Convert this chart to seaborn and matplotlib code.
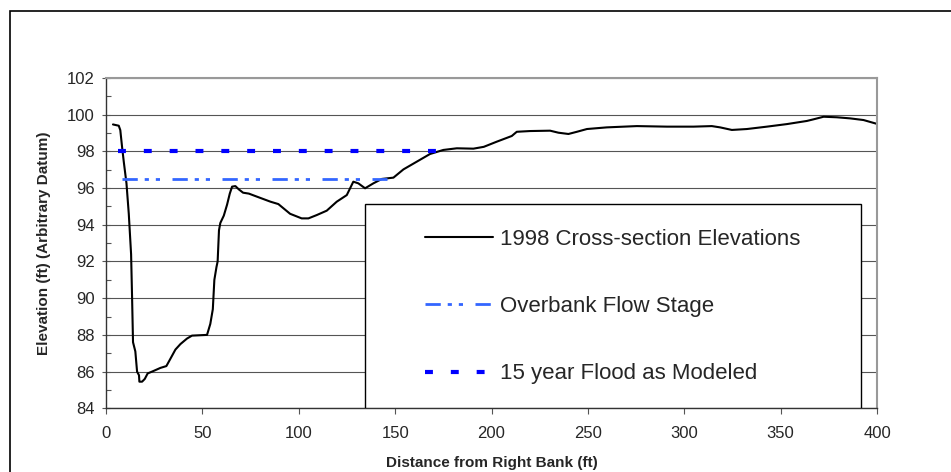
import matplotlib
matplotlib.use("Agg")
import matplotlib.pyplot as plt
import seaborn as sns
from matplotlib.patches import Rectangle
from matplotlib.ticker import MultipleLocator

# 1998 cross-section survey (distance from right bank, elevation)
distance = [3.6, 6.6, 7.4, 8.3, 9.2, 10.6, 11.8, 13.0, 13.5, 14.0, 15.2, 16.1, 17.1,
            17.3, 18.7, 20.1, 21.6, 23.9, 28.2, 31.3, 33.4, 36.0, 38.6, 42.0, 44.6,
            52.4, 54.1, 55.4, 56.2, 57.3, 57.9, 58.6, 59.3, 61.1, 62.8, 64.2, 65.4,
            67.1, 68.9, 71.1, 74.1, 78.4, 85.3, 89.4, 95.5, 101.5, 105.0, 109.3,
            114.5, 119.7, 124.9, 128.3, 130.9, 134.4, 138.7, 143.1, 149.1, 154.3,
            161.2, 168.1, 175.0, 182.0, 190.6, 196.0, 202.7, 210.5, 213.1, 220.0,
            230.4, 234.7, 239.9, 244.3, 249.5, 259.8, 275.4, 291.0, 304.8, 314.3,
            318.6, 324.7, 332.5, 342.9, 353.3, 363.6, 367.1, 372.3, 379.2, 386.1,
            393.0, 400.0]
elevation = [99.47, 99.40, 99.16, 98.26, 97.44, 96.26, 94.60, 92.40, 90.10, 87.60,
             87.10, 86.00, 85.80, 85.45, 85.45, 85.60, 85.90, 86.00, 86.20, 86.30,
             86.70, 87.20, 87.50, 87.80, 87.96, 88.00, 88.60, 89.40, 91.00, 91.70,
             92.00, 93.70, 94.10, 94.50, 95.10, 95.70, 96.08, 96.11, 95.93, 95.75,
             95.70, 95.53, 95.26, 95.13, 94.60, 94.35, 94.35, 94.53, 94.77, 95.26,
             95.62, 96.35, 96.26, 95.99, 96.26, 96.50, 96.57, 97.02, 97.44, 97.86,
             98.08, 98.17, 98.15, 98.25, 98.53, 98.84, 99.07, 99.11, 99.13, 99.02,
             98.95, 99.07, 99.22, 99.31, 99.38, 99.35, 99.35, 99.38, 99.31, 99.17,
             99.22, 99.35, 99.49, 99.66, 99.75, 99.89, 99.86, 99.80, 99.71, 99.50]

# water surface levels
overbank_x = [8.5, 146.0]
overbank_y = [96.5, 96.5]
flood_x = [6.0, 172.5]
flood_y = [98.0, 98.0]

labels = ["1998 Cross-section Elevations", "Overbank Flow Stage", "15 year Flood as Modeled"]

sns.set_theme(style="white")
plt.rcParams["font.family"] = ["Liberation Sans", "DejaVu Sans"]

fig = plt.figure(figsize=(9.51, 4.72), dpi=100)
ax = fig.add_axes([0.1115, 0.135, 0.9222 - 0.1115, 0.8347 - 0.135])

sns.lineplot(x=distance, y=elevation, ax=ax, sort=False, estimator=None,
             color="black", linewidth=1.5, label=labels[0], zorder=2)
sns.lineplot(x=overbank_x, y=overbank_y, ax=ax, sort=False, estimator=None,
             color="#3366FF", linewidth=2.0, label=labels[1], zorder=2,
             dashes=False)
sns.lineplot(x=flood_x, y=flood_y, ax=ax, sort=False, estimator=None,
             color="#0000FF", linewidth=3.0, label=labels[2], zorder=2,
             dashes=False)
ax.lines[1].set_dashes([5.5, 2.5, 1.5, 2.5, 1.5, 4.5])
ax.lines[2].set_dashes([1.9, 4.3])

ax.set_xlim(0, 400)
ax.set_ylim(84, 102)
ax.xaxis.set_major_locator(MultipleLocator(50))
ax.yaxis.set_major_locator(MultipleLocator(2))
ax.yaxis.set_minor_locator(MultipleLocator(1))
ax.grid(axis="y", which="major", color="#555555", linewidth=0.8)
ax.grid(axis="x", visible=False)

ax.tick_params(axis="x", which="major", direction="out", length=4, width=0.8,
               color="#555555", labelsize=12, pad=9, bottom=True)
ax.tick_params(axis="y", which="major", direction="inout", length=6, width=0.8,
               color="#555555", labelsize=12, pad=5, left=True)
ax.tick_params(axis="y", which="minor", direction="in", length=3.5, width=0.8,
               color="#555555", left=True)

for side in ["left", "bottom"]:
    ax.spines[side].set_color("#333333")
    ax.spines[side].set_linewidth(1.0)
for side in ["top", "right"]:
    ax.spines[side].set_color("#999999")
    ax.spines[side].set_linewidth(1.5)

ax.set_xlabel("Distance from Right Bank (ft)", fontsize=11, fontweight="bold", labelpad=10.5)
ax.set_ylabel("Elevation (ft) (Arbitrary Datum)", fontsize=11, fontweight="bold", labelpad=11.5)

# legend box, then the entries on top of it
ax.add_patch(Rectangle((0.336, 0.0), 0.643, 0.6185, transform=ax.transAxes,
                       facecolor="white", edgecolor="black", linewidth=1.0, zorder=3))
handles, _ = ax.get_legend_handles_labels()
leg = ax.legend(handles, labels, loc="upper left", bbox_to_anchor=(0.4137, 0.543),
                frameon=False, fontsize=16, handlelength=3.06, handletextpad=0.32,
                labelspacing=2.08, borderpad=0, borderaxespad=0)
leg.set_zorder(5)

# outer chart border
fig.patches.append(Rectangle((10 / 951, -0.1), 1.2, 1.1 - 11 / 472,
                             transform=fig.transFigure, fill=False,
                             edgecolor="black", linewidth=1.2))

fig.savefig("out.png", dpi=100)
plt.close(fig)
